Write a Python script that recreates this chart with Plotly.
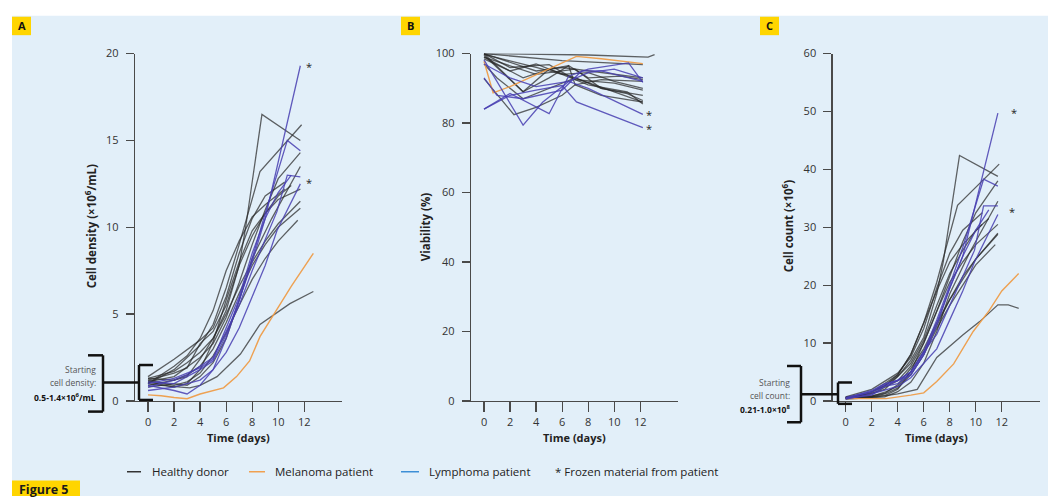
import plotly.graph_objects as go

W, H = 1048, 503

# ---------------- Panel A: cell density (x10^6/mL) ----------------
dens_healthy_days = [
    [0, 1, 2, 3, 4, 5, 6, 7, 7.5, 8.75, 11.7],
    [0, 2, 4, 5, 6, 7, 8.6, 11.8],
    [0, 2, 4, 5, 6, 7, 8, 9, 10, 11.7],
    [0, 2, 3, 4, 5, 6, 7, 8, 9, 10, 11.7],
    [0, 2, 3, 4, 5, 6, 7, 8, 9, 10, 11.5],
    [0, 1, 3.2, 4, 5.3, 6, 7.1, 8.6, 9.6, 10.9, 12.7],
    [0, 2, 4, 5, 6, 7, 8, 9, 10.5],
    [0, 2, 3, 4, 5, 6, 7, 8, 9, 10, 11],
    [0, 2, 3, 4, 5, 6, 7, 8, 9.5, 11.7],
    [0, 2, 3, 4, 5, 6, 7, 8, 9, 10, 11.7],
    [0, 2, 3, 4, 5, 6, 7, 8, 9, 10.5],
    [0, 2, 3, 4, 5, 6, 7, 8, 9, 10, 11.7],
]
dens_healthy = [
    [1.3, 1.5, 1.7, 2.2, 2.8, 3.6, 5.2, 7.8, 10.0, 16.5, 15.0],
    [1.0, 1.8, 3.2, 4.4, 6.5, 9.0, 13.2, 15.9],
    [1.1, 1.4, 2.5, 3.3, 4.8, 6.8, 9.0, 11.0, 12.8, 14.3],
    [0.9, 1.2, 1.5, 2.0, 3.0, 4.5, 6.2, 7.8, 9.0, 10.0, 11.1],
    [1.2, 0.9, 1.1, 1.6, 2.6, 3.9, 5.5, 7.0, 8.2, 9.2, 10.4],
    [1.0, 0.9, 0.75, 0.9, 1.4, 1.9, 2.7, 4.4, 4.9, 5.6, 6.3],
    [1.4, 2.4, 3.5, 4.2, 6.0, 8.5, 10.5, 11.8, 12.6],
    [1.2, 1.6, 1.9, 3.3, 4.0, 5.5, 7.8, 9.5, 10.8, 11.8, 12.4],
    [0.8, 1.0, 0.9, 1.4, 2.2, 3.6, 5.8, 8.2, 10.5, 13.5],
    [1.3, 1.2, 1.4, 2.4, 3.6, 5.0, 6.6, 8.0, 9.2, 10.2, 11.5],
    [1.0, 2.0, 2.6, 3.6, 5.2, 7.5, 9.2, 10.6, 11.3, 12.2],
    [1.1, 0.8, 1.0, 1.8, 3.4, 5.8, 8.0, 9.8, 10.8, 11.6, 12.2],
]
dens_lymph_days = [
    [0, 2, 3, 4, 5, 6, 7, 8, 9, 11.7],
    [0, 2, 4, 5, 6, 7, 8, 9, 10.7, 11.7],
    [0, 2, 3, 4, 5, 6, 7, 8, 9.9, 10.7, 11.7],
    [0, 2, 4, 5, 6, 7, 8, 9, 9.9, 11.7],
    [0, 2, 3, 4, 5, 6, 7, 8, 9, 10, 11],
]
dens_lymph = [
    [0.9, 0.6, 0.4, 0.9, 1.8, 3.6, 5.8, 8.0, 10.5, 19.3],
    [1.1, 1.0, 1.8, 2.3, 3.8, 5.8, 8.2, 10.8, 15.0, 14.4],
    [0.8, 1.2, 1.5, 2.0, 2.5, 4.0, 5.5, 7.5, 10.9, 13.0, 12.9],
    [0.6, 0.8, 1.2, 1.8, 2.8, 4.2, 6.0, 7.8, 9.8, 12.5],
    [1.0, 1.3, 1.6, 1.9, 2.4, 4.2, 6.0, 8.5, 10.5, 12.0, 13.0],
]
dens_mel_days = [0, 1, 2, 3, 4, 5, 5.8, 6.8, 7.8, 8.6, 9.6, 11, 12.7]
dens_mel = [0.35, 0.3, 0.2, 0.13, 0.4, 0.6, 0.75, 1.4, 2.3, 3.7, 4.9, 6.6, 8.5]

# ---------------- Panel B: viability (%) ----------------
via_healthy_days = [
    [0, 4, 8, 12.6, 13.1],
    [0, 2, 4, 6, 8, 10, 12.2],
    [0, 2, 4, 6, 8, 10, 12.2],
    [0, 3, 5, 6.5, 7, 9, 12.2],
    [0, 2, 5, 7, 10, 12.2],
    [0, 2.3, 4, 6, 7, 9, 12.2],
    [0, 3, 5, 7, 9, 11, 12.2],
    [0, 2, 4, 6, 8, 10, 12.2],
    [0, 3, 5, 6.5, 8, 10.5, 12.2],
    [0, 2, 4, 7, 9, 12.2],
    [0, 1, 3, 5, 7, 12.2],
    [0, 2, 4, 6, 8, 11, 12.2],
]
via_healthy = [
    [100, 99.7, 99.6, 99.0, 99.7],
    [100, 99.3, 98.8, 98.0, 97.6, 97.2, 96.8],
    [100, 97.5, 95.0, 96.0, 95.0, 94.0, 93.0],
    [99.5, 89.0, 93.0, 96.5, 91.0, 92.5, 92.0],
    [100, 96.0, 96.8, 92.5, 91.5, 89.5],
    [92.8, 82.4, 84.5, 88.0, 91.0, 88.0, 86.0],
    [99.0, 93.0, 95.5, 93.0, 90.0, 88.5, 86.5],
    [98.5, 95.0, 97.0, 94.0, 94.5, 92.0, 90.0],
    [100, 89.0, 95.5, 96.5, 93.0, 93.5, 92.5],
    [99.0, 96.5, 94.0, 95.5, 90.0, 88.0],
    [97.0, 93.0, 87.0, 90.0, 93.0, 86.0],
    [99.8, 98.0, 96.0, 94.0, 91.0, 89.0, 85.5],
]
via_lymph_days = [
    [0, 2, 4, 6, 7.1, 12.2],
    [0, 3, 4.5, 6.5, 8, 10, 12.2],
    [0, 2, 5, 6.5, 8, 11.1, 12.2],
    [0, 2, 4, 6.5, 8, 10, 12.2],
    [0, 1, 3, 6, 7.5, 9, 12.2],
]
via_lymph = [
    [84.0, 88.0, 89.5, 90.8, 86.1, 78.7],
    [98.2, 79.4, 86.0, 92.0, 90.0, 86.5, 82.5],
    [84.0, 88.5, 82.7, 93.5, 95.5, 97.3, 91.7],
    [97.0, 93.0, 90.5, 92.0, 94.5, 95.5, 93.0],
    [93.0, 88.0, 87.0, 89.5, 95.0, 95.0, 92.0],
]
via_mel_days = [0, 0.7, 2, 4, 6, 7.1, 9, 12.2]
via_mel = [97.8, 88.7, 90.5, 94.0, 97.5, 99.2, 98.5, 97.1]

# ---------------- Panel C: cell count (x10^6) ----------------
count_healthy_days = [
    [0, 1, 2, 3, 4, 5, 6, 7, 7.5, 8.75, 11.7],
    [0, 2, 4, 5, 6, 7, 8.6, 11.8],
    [0, 2, 4, 5, 6, 7, 8, 9, 10, 11.7],
    [0, 2, 3, 4, 5, 6, 7, 8, 9, 10, 11.7],
    [0, 2, 3, 4, 5, 6, 7, 8, 9, 10, 11.5],
    [0, 3.1, 4, 5.5, 7, 9, 10.3, 11.7, 12.5, 13.3],
    [0, 2, 4, 5, 6, 7, 8, 9, 10.5],
    [0, 2, 3, 4, 5, 6, 7, 8, 9, 10, 11],
    [0, 2, 3, 4, 5, 6, 7, 8, 9.5, 11.7],
    [0, 2, 3, 4, 5, 6, 7, 8, 9, 10, 11.7],
    [0, 2, 3, 4, 5, 6, 7, 8, 9, 10.5],
    [0, 2, 3, 4, 5, 6, 7, 8, 9, 10, 11.7],
]
count_healthy = [
    [0.6, 1.0, 1.6, 2.6, 4.2, 7.0, 11.0, 18.5, 24.0, 42.4, 38.8],
    [0.5, 1.5, 4.5, 8.0, 13.5, 20.5, 33.8, 40.9],
    [0.5, 1.2, 3.5, 6.0, 10.0, 15.5, 21.5, 27.5, 32.5, 38.0],
    [0.4, 0.8, 1.5, 2.5, 5.0, 8.5, 13.0, 17.5, 21.0, 24.5, 28.8],
    [0.6, 0.7, 1.2, 2.2, 4.5, 8.0, 12.5, 16.5, 20.0, 23.5, 27.0],
    [0.5, 0.9, 1.2, 2.0, 7.5, 11.4, 13.7, 16.6, 16.6, 16.0],
    [0.7, 2.0, 4.8, 7.5, 12.5, 19.5, 25.5, 29.5, 32.5],
    [0.5, 1.3, 2.0, 4.3, 6.5, 10.5, 16.5, 22.0, 26.0, 29.5, 31.5],
    [0.3, 0.6, 0.7, 1.6, 3.2, 6.5, 12.0, 18.5, 25.5, 34.5],
    [0.6, 0.9, 1.3, 2.8, 5.6, 9.0, 13.5, 17.5, 21.5, 24.5, 29.0],
    [0.4, 1.5, 2.6, 4.5, 8.0, 13.5, 19.0, 24.0, 27.0, 30.5],
    [0.5, 0.6, 0.9, 2.0, 5.0, 10.0, 15.5, 20.5, 24.0, 27.0, 30.5],
]
count_lymph_days = [
    [0, 2, 3, 4, 5, 6, 7, 8, 9, 11.7],
    [0, 2, 4, 5, 6, 7, 8, 9, 10.6, 11.7],
    [0, 2, 3, 4, 5, 6, 7, 8, 9.9, 10.6, 11.7],
    [0, 2, 4, 5, 6, 7, 8, 9, 9.9, 11.7],
    [0, 2, 3, 4, 5, 6, 7, 8, 9, 10, 11],
]
count_lymph = [
    [0.4, 1.0, 2.5, 3.0, 4.5, 8.0, 13.5, 19.5, 25.0, 49.7],
    [0.6, 1.5, 3.5, 5.0, 8.5, 14.0, 20.0, 26.5, 38.3, 37.1],
    [0.4, 1.6, 2.8, 3.6, 5.0, 8.5, 11.5, 16.5, 26.0, 33.7, 33.7],
    [0.3, 1.2, 2.5, 4.0, 6.5, 9.0, 14.0, 19.0, 24.0, 32.2],
    [0.5, 1.8, 3.0, 3.5, 4.5, 8.0, 13.0, 19.5, 25.0, 29.5, 33.0],
]
count_mel_days = [0, 3.1, 5, 6, 7, 8.3, 9.8, 11, 12, 13.3]
count_mel = [0.4, 0.4, 1.0, 1.4, 3.35, 6.4, 12.0, 15.5, 19.0, 22.0]

x_ticks = [0, 2, 4, 6, 8, 10, 12]
yticks_A = [0, 5, 10, 15, 20]
yticks_B = [0, 20, 40, 60, 80, 100]
yticks_C = [0, 10, 20, 30, 40, 50, 60]

legend_labels = ["Healthy donor", "Melanoma patient", "Lymphoma patient"]

# ---------------- styling ----------------
FONT = "Open Sans"
BG = "#e2eff9"
AX = "#4a4a4a"
C_HEALTHY = "rgba(40,40,40,0.72)"
C_MEL = "rgba(238,156,72,0.95)"
C_LYM = "rgba(72,62,178,0.85)"
LEG_COLORS = ["#333333", "#f0a050", "#3d8fd6"]


def X(px):
    return px / W


def Y(py):
    return 1 - py / H


fig = go.Figure()

panels = [
    ("x", "y", dens_healthy_days, dens_healthy, dens_mel_days, dens_mel, dens_lymph_days, dens_lymph),
    ("x2", "y2", via_healthy_days, via_healthy, via_mel_days, via_mel, via_lymph_days, via_lymph),
    ("x3", "y3", count_healthy_days, count_healthy, count_mel_days, count_mel, count_lymph_days, count_lymph),
]
for xa, ya, hd, hv, md, mv, ld, lv in panels:
    for d, v in zip(hd, hv):
        fig.add_trace(go.Scatter(x=d, y=v, mode="lines", xaxis=xa, yaxis=ya, showlegend=False,
                                 line=dict(color=C_HEALTHY, width=1.3), hoverinfo="skip"))
    fig.add_trace(go.Scatter(x=md, y=mv, mode="lines", xaxis=xa, yaxis=ya, showlegend=False,
                             line=dict(color=C_MEL, width=1.4), hoverinfo="skip"))
    for d, v in zip(ld, lv):
        fig.add_trace(go.Scatter(x=d, y=v, mode="lines", xaxis=xa, yaxis=ya, showlegend=False,
                                 line=dict(color=C_LYM, width=1.3), hoverinfo="skip"))

ydom = [Y(405), Y(47)]
axis_common = dict(showline=True, linecolor=AX, linewidth=1.3, ticks="outside",
                   tickwidth=1.2, tickcolor=AX, showgrid=False, zeroline=False,
                   tickfont=dict(family=FONT, size=11, color="#333"), fixedrange=True)
xax = dict(range=[-1, 14.9], tickvals=x_ticks, ticklen=10, ticklabelstandoff=1, **axis_common)
yax = dict(domain=ydom, ticklen=8, ticklabelstandoff=5, **axis_common)

fig.update_layout(
    width=W, height=H, margin=dict(l=0, r=0, t=0, b=0),
    paper_bgcolor="white", plot_bgcolor="rgba(0,0,0,0)", showlegend=False,
    font=dict(family=FONT, color="#222"),
    xaxis=dict(domain=[X(135), X(342)], anchor="y", **xax),
    yaxis=dict(range=[0, 20], tickvals=yticks_A, anchor="x", **yax),
    xaxis2=dict(domain=[X(471), X(678)], anchor="y2", **xax),
    yaxis2=dict(range=[0, 100], tickvals=yticks_B, anchor="x2", **yax),
    xaxis3=dict(domain=[X(832.7), X(1039.5)], anchor="y3", **xax),
    yaxis3=dict(range=[0, 60], tickvals=yticks_C, anchor="x3", **yax),
)

shapes = []
annotations = []


def text(x, y, txt, size=11, color="#222", xanchor="center", angle=0):
    annotations.append(dict(x=X(x), y=Y(y), xref="paper", yref="paper", text=txt, showarrow=False,
                            xanchor=xanchor, yanchor="middle", textangle=angle,
                            font=dict(family=FONT, size=size, color=color)))


# light blue background
shapes.append(dict(type="rect", xref="paper", yref="paper", x0=X(12), x1=1, y0=0, y1=Y(8),
                   fillcolor=BG, line=dict(width=0), layer="below"))

# panel letters
for letter, x0 in [("A", 12), ("B", 401), ("C", 760)]:
    shapes.append(dict(type="rect", xref="paper", yref="paper", x0=X(x0), x1=X(x0 + 19),
                       y0=Y(28), y1=Y(9), fillcolor="#ffd500", line=dict(width=0)))
    text(x0 + 9.5, 18.5, "<b>%s</b>" % letter, size=11, color="#111")

# Figure 5 box
shapes.append(dict(type="rect", xref="paper", yref="paper", x0=X(12), x1=X(80), y0=0, y1=Y(487),
                   fillcolor="#ffd500", line=dict(width=0)))
text(17, 496, "<b>Figure 5</b>", size=12.5, color="#1a1a1a", xanchor="left")

# axis titles
text(90, 225, "<b>Cell density (×10<sup>6</sup>/mL)</b>", size=11.5, angle=-90)
text(425, 226, "<b>Viability (%)</b>", size=11.5, angle=-90)
text(787, 225, "<b>Cell count (×10<sup>6</sup>)</b>", size=11.5, angle=-90)
for cx in [238, 574.5, 936]:
    text(cx, 443, "<b>Time (days)</b>")

# stars
for sx, sy in [(309, 58), (309, 178), (649, 108), (649, 122), (1014, 106), (1012, 208)]:
    text(sx, sy + 2, "*", size=11)


def line(x0, y0, x1, y1, color="#111", width=2.5):
    shapes.append(dict(type="line", xref="paper", yref="paper", x0=X(x0), y0=Y(y0), x1=X(x1), y1=Y(y1),
                       line=dict(color=color, width=width)))


def brackets(bx_out, bx_in, by0, by1, cy, sx, sx_out, sy0, sy1):
    # big "]" bracket
    line(bx_in, by0, bx_in, by1)
    line(bx_out, by0, bx_in, by0)
    line(bx_out, by1, bx_in, by1)
    # connector
    line(bx_in, cy, sx, cy)
    # small "[" bracket
    line(sx, sy0, sx, sy1)
    line(sx, sy0, sx_out, sy0)
    line(sx, sy1, sx_out, sy1)


brackets(88, 103, 358, 416, 386, 139, 153, 368, 404)
brackets(787, 801, 369, 427, 398, 838, 852, 386, 408)

for tx, ty, txt, bold in [
    (98, 372.5, "Starting", False), (98, 386.5, "cell density:", False),
    (98, 400.5, "0.5-1.4×10<sup>6</sup>/mL", True),
    (792, 385.5, "Starting", False), (792, 399, "cell count:", False),
    (792, 413, "0.21-1.0×10<sup>8</sup>", True),
]:
    text(tx, ty, ("<b>%s</b>" % txt) if bold else txt, size=8.5,
         color="#111" if bold else "#555", xanchor="right")

# legend
leg_y = 478
for (lx0, lx1, tx), lab, col in zip([(127, 141, 150), (249, 265, 273), (401, 419, 427)], legend_labels, LEG_COLORS):
    line(lx0, leg_y, lx1, leg_y, color=col, width=1.5)
    text(tx, leg_y, lab, size=11.5, xanchor="left")
text(553, leg_y, "* Frozen material from patient", size=11.5, xanchor="left")

fig.update_layout(shapes=shapes, annotations=annotations)
fig.write_html("out.html", config={"displayModeBar": False, "staticPlot": True},
               post_script="document.body.style.margin='0';document.body.style.overflow='hidden';")
